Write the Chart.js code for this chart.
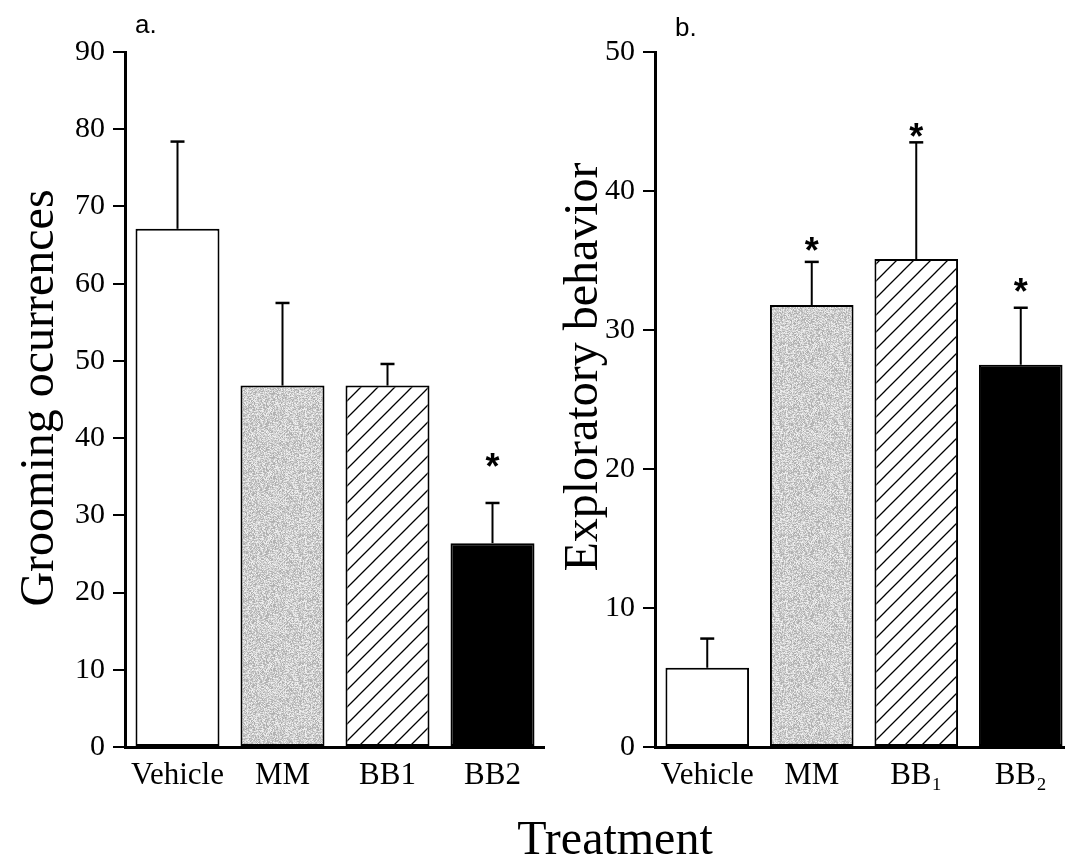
<!DOCTYPE html>
<html>
<head>
<meta charset="utf-8">
<script src="https://cdn.jsdelivr.net/npm/chart.js@4.4.1/dist/chart.umd.min.js"></script>
<style>
  html, body { margin: 0; padding: 0; background: #fff; overflow: hidden; }
  #wrap { position: relative; width: 1065px; height: 861px; overflow: hidden; background: #fff; }
  #chartA { position: absolute; left: 0; top: 0; }
  #chartB { position: absolute; left: 545px; top: 0; }
  #xtitle { position: absolute; left: 415px; width: 400px; top: 810px; line-height: 48px;
            text-align: center; font: 48px "Liberation Serif", "Times New Roman", serif; color: #000; }
</style>
</head>
<body>
<div id="wrap">
  <canvas id="chartA" width="545" height="861"></canvas>
  <canvas id="chartB" width="545" height="861"></canvas>
  <div id="xtitle">Treatment</div>
</div>
<script>
// treatment groups (panel b uses subscripted names)
const groupsA = ["Vehicle", "MM", "BB1", "BB2"];
const groupsB = ["Vehicle", "MM", "BB\u2081", "BB\u2082"];

// a. grooming occurrences: mean, SEM and level of the significance mark
const groomMean = [67.1, 46.8, 46.8, 26.4];
const groomSem = [11.3, 10.7, 2.8, 5.2];
const groomStar = [null, null, null, 37.4];

// b. exploratory behaviour
const exploreMean = [5.7, 31.8, 35.1, 27.5];
const exploreSem = [2.1, 3.1, 8.4, 4.1];
const exploreStar = [null, 36.3, 44.5, 33.4];

// y axis ranges
const groomMax = 90, groomStep = 10;
const exploreMax = 50, exploreStep = 10;

const serif = '"Liberation Serif", "Times New Roman", serif';
const sans = '"Liberation Sans", Arial, sans-serif';

// grey speckled fill (deterministic noise)
function makeStipple() {
  const c = document.createElement("canvas");
  c.width = c.height = 64;
  const g = c.getContext("2d");
  const img = g.createImageData(64, 64);
  let s = 12345;
  for (let i = 0; i < 64 * 64; i++) {
    s = (s * 1103515245 + 12345) & 0x7fffffff;
    const v = 170 + ((s >> 16) % 75);
    img.data[i * 4] = v;
    img.data[i * 4 + 1] = v;
    img.data[i * 4 + 2] = v;
    img.data[i * 4 + 3] = 255;
  }
  g.putImageData(img, 0, 0);
  return g.createPattern(c, "repeat");
}

// diagonal "/" hatching on white
function makeHatch() {
  const n = 17;
  const c = document.createElement("canvas");
  c.width = c.height = n;
  const g = c.getContext("2d");
  g.fillStyle = "#fff";
  g.fillRect(0, 0, n, n);
  g.strokeStyle = "#000";
  g.lineWidth = 1.3;
  g.beginPath();
  g.moveTo(0, n); g.lineTo(n, 0);
  g.moveTo(-2, 2); g.lineTo(2, -2);
  g.moveTo(n - 2, n + 2); g.lineTo(n + 2, n - 2);
  g.stroke();
  return g.createPattern(c, "repeat");
}

// error bars, asterisks, panel letter and y title
const annotate = {
  id: "annot",
  afterDatasetsDraw(chart, args, o) {
    const ctx = chart.ctx;
    const y = chart.scales.y;
    const bars = chart.getDatasetMeta(0).data;
    ctx.save();
    ctx.strokeStyle = "#000";
    ctx.fillStyle = "#000";
    bars.forEach((bar, i) => {
      const top = y.getPixelForValue(o.mean[i] + o.sem[i]);
      ctx.lineWidth = 2;
      ctx.beginPath();
      ctx.moveTo(bar.x, bar.y);
      ctx.lineTo(bar.x, top);
      ctx.stroke();
      ctx.lineWidth = 2.5;
      ctx.beginPath();
      ctx.moveTo(bar.x - 7, top);
      ctx.lineTo(bar.x + 7, top);
      ctx.stroke();
      if (o.star[i] != null) {
        ctx.font = "bold 36px " + sans;
        ctx.textAlign = "center";
        ctx.textBaseline = "alphabetic";
        ctx.fillText("*", bar.x, y.getPixelForValue(o.star[i]) + 21);
      }
    });
    ctx.restore();
  },
  afterDraw(chart, args, o) {
    const ctx = chart.ctx;
    ctx.save();
    ctx.fillStyle = "#000";
    ctx.font = "26px " + sans;
    ctx.textAlign = "left";
    ctx.textBaseline = "alphabetic";
    ctx.fillText(o.letter, o.letterX, o.letterY);
    ctx.translate(o.titleX, o.titleY);
    ctx.rotate(-Math.PI / 2);
    ctx.font = "48px " + serif;
    ctx.textAlign = "center";
    ctx.fillText(o.title, 0, 0);
    ctx.restore();
  }
};

function panel(id, labels, mean, sem, star, max, step, ann) {
  const fills = ["#fff", makeStipple(), makeHatch(), "#000"];
  return new Chart(document.getElementById(id), {
    type: "bar",
    data: {
      labels: labels,
      datasets: [{
        data: mean,
        backgroundColor: fills,
        borderColor: "#000",
        borderWidth: 2,
        borderSkipped: false,
        barPercentage: 0.8,
        categoryPercentage: 1.0
      }]
    },
    options: {
      responsive: false,
      animation: false,
      layout: { padding: { top: 52, right: ann.padRight, left: 0, bottom: 0 } },
      plugins: {
        legend: { display: false },
        tooltip: { enabled: false },
        annot: Object.assign({ mean: mean, sem: sem, star: star }, ann)
      },
      scales: {
        x: {
          grid: { display: false, drawTicks: false },
          border: { display: true, color: "#000", width: 3 },
          ticks: { color: "#000", font: { family: serif, size: 31 }, padding: 10, maxRotation: 0 },
          afterFit(s) { s.height = 114; }
        },
        y: {
          min: 0,
          max: max,
          ticks: { stepSize: step, color: "#000", font: { family: serif, size: 30 }, padding: 8 },
          grid: { drawOnChartArea: false, drawTicks: true, tickLength: 12, color: "#000", lineWidth: 2 },
          border: { color: "#000", width: 3 },
          afterFit(s) { s.width = ann.axisWidth; }
        }
      }
    },
    plugins: [annotate]
  });
}

panel("chartA", groupsA, groomMean, groomSem, groomStar, groomMax, groomStep, {
  letter: "a.", letterX: 135, letterY: 33,
  title: "Grooming ocurrences", titleX: 53, titleY: 398,
  axisWidth: 125, padRight: 0
});

panel("chartB", groupsB, exploreMean, exploreSem, exploreStar, exploreMax, exploreStep, {
  letter: "b.", letterX: 130, letterY: 36,
  title: "Exploratory behavior", titleX: 52, titleY: 367,
  axisWidth: 110, padRight: 17
});
</script>
</body>
</html>
